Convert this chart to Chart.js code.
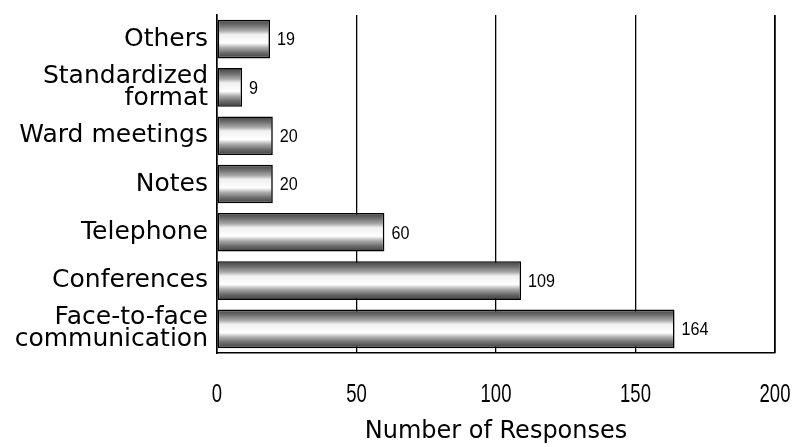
<!DOCTYPE html>
<html>
<head>
<meta charset="utf-8">
<script src="https://cdn.jsdelivr.net/npm/chart.js@4/dist/chart.umd.min.js"></script>
<style>
  html, body { margin: 0; padding: 0; background: #fff; }
  #wrap { width: 792px; height: 447px; position: relative; }
</style>
</head>
<body>
<div id="wrap"><canvas id="c"></canvas></div>
<script>
// Communication channels and how many respondents named each one
const categories = [
  ["Others"],
  ["Standardized", "format"],
  ["Ward meetings"],
  ["Notes"],
  ["Telephone"],
  ["Conferences"],
  ["Face-to-face", "communication"]
];
const responses = [19, 9, 20, 20, 60, 109, 164];
const xTicks = [0, 50, 100, 150, 200];
const xTitle = "Number of Responses";

const BAR_PCT = 0.8;
const NARROW = "'Liberation Sans', Arial, sans-serif";
const WIDE = "'DejaVu Sans', Verdana, sans-serif";

// Vertical shading for each bar: dark edges, bright centre
function barFill(ctx) {
  const chart = ctx.chart;
  const y = chart.scales.y;
  if (!y || !chart.chartArea || ctx.dataIndex === undefined) return "#999";
  const centre = y.getPixelForValue(ctx.dataIndex);
  const step = (y.bottom - y.top) / categories.length;
  const half = step * BAR_PCT / 2;
  const g = chart.ctx.createLinearGradient(0, centre - half, 0, centre + half);
  g.addColorStop(0, "#404040");
  g.addColorStop(0.14, "#6e6e6e");
  g.addColorStop(0.28, "#a8a8a8");
  g.addColorStop(0.38, "#f0f0f0");
  g.addColorStop(0.6, "#ffffff");
  g.addColorStop(0.72, "#acacac");
  g.addColorStop(0.86, "#6a6a6a");
  g.addColorStop(1, "#3c3c3c");
  return g;
}

// Condensed text helper (squeezes glyphs horizontally)
function narrowText(ctx, text, x, y, sx, align) {
  ctx.save();
  ctx.translate(x, y);
  ctx.scale(sx, 1);
  ctx.textAlign = align;
  ctx.fillText(text, 0, 0);
  ctx.restore();
}

// Count printed just past the end of each bar
const valueLabels = {
  id: "valueLabels",
  afterDatasetsDraw(chart) {
    const ctx = chart.ctx;
    const meta = chart.getDatasetMeta(0);
    ctx.save();
    ctx.fillStyle = "#000";
    ctx.font = "19px " + NARROW;
    ctx.textBaseline = "middle";
    meta.data.forEach((bar, i) => {
      narrowText(ctx, String(responses[i]), bar.x + 7, bar.y + 1, 0.85, "left");
    });
    ctx.restore();
  }
};

// Narrow numerals under the value axis, plus the right frame edge
const axisExtras = {
  id: "axisExtras",
  afterDraw(chart) {
    const a = chart.chartArea;
    const xs = chart.scales.x;
    const ctx = chart.ctx;
    ctx.save();
    ctx.strokeStyle = "#000";
    ctx.lineWidth = 1.4;
    ctx.beginPath();
    ctx.moveTo(a.right, a.top);
    ctx.lineTo(a.right, a.bottom);
    ctx.stroke();

    ctx.fillStyle = "#000";
    ctx.font = "25px " + NARROW;
    ctx.textBaseline = "middle";
    xTicks.forEach(v => {
      narrowText(ctx, String(v), xs.getPixelForValue(v), a.bottom + 42, 0.74, "center");
    });
    ctx.restore();
  }
};

new Chart(document.getElementById("c"), {
  type: "bar",
  data: {
    labels: categories,
    datasets: [{
      data: responses,
      backgroundColor: barFill,
      borderColor: "#000",
      borderWidth: 1.6,
      borderSkipped: false,
      barPercentage: BAR_PCT,
      categoryPercentage: 1
    }]
  },
  options: {
    indexAxis: "y",
    responsive: true,
    maintainAspectRatio: false,
    animation: false,
    layout: { padding: { top: 15, right: 17, left: 0, bottom: 0 } },
    plugins: {
      legend: { display: false },
      tooltip: { enabled: false }
    },
    scales: {
      x: {
        min: 0,
        max: 200,
        afterBuildTicks(scale) {
          scale.ticks = xTicks.map(v => ({ value: v }));
        },
        afterFit(scale) {
          scale.height = 94;
          scale.paddingLeft = 0;
          scale.paddingRight = 0;
        },
        grid: {
          color: "#000",
          lineWidth: 1.3,
          drawTicks: false
        },
        border: { display: true, color: "#000", width: 1.6 },
        ticks: { display: false },
        title: {
          display: true,
          text: xTitle,
          color: "#000",
          padding: { top: 0, bottom: 1 },
          font: { family: WIDE, size: 24 }
        }
      },
      y: {
        afterFit(scale) {
          scale.width = 217;
          scale.paddingTop = 0;
          scale.paddingBottom = 0;
        },
        grid: { display: false, drawTicks: false },
        border: { display: true, color: "#000", width: 1.6 },
        ticks: {
          color: "#000",
          padding: 9,
          font: { family: WIDE, size: 25, lineHeight: 0.88 }
        }
      }
    }
  },
  plugins: [valueLabels, axisExtras]
});
</script>
</body>
</html>
